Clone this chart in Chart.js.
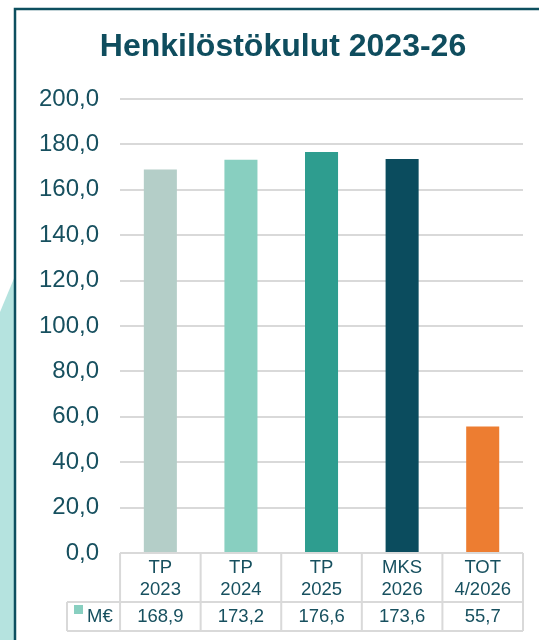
<!DOCTYPE html>
<html>
<head>
<meta charset="utf-8">
<script src="https://cdn.jsdelivr.net/npm/chart.js@4"></script>
<style>
  html, body { margin: 0; padding: 0; background: #fff; }
  #wrap { width: 539px; height: 640px; position: relative; }
</style>
</head>
<body>
<div id="wrap"><canvas id="chart"></canvas></div>
<script>
const categories = [['TP', '2023'], ['TP', '2024'], ['TP', '2025'], ['MKS', '2026'], ['TOT', '4/2026']];
const values = [168.9, 173.2, 176.6, 173.6, 55.7];
const seriesLabel = 'M€';
const chartTitle = 'Henkilöstökulut 2023-26';
const barColors = ['#b4cec8', '#88cfc0', '#2e9d8f', '#0b4c5e', '#ed7d31'];

const textColor = '#17505f';
const lineGrey = '#d9d9d9';
const fontFamily = '"Liberation Sans", Arial, sans-serif';

function fmt(v) {
    return v.toFixed(1).replace('.', ',');
}

// frame, decorative strip on the left and the title
const framePlugin = {
    id: 'frame',
    beforeDraw(chart) {
        const c = chart.ctx;
        c.save();
        c.fillStyle = '#fff';
        c.fillRect(0, 0, chart.width, chart.height);
        c.fillStyle = '#b5e3df';
        c.beginPath();
        c.moveTo(15, 276);
        c.lineTo(0, 312);
        c.lineTo(0, chart.height);
        c.lineTo(15, chart.height);
        c.closePath();
        c.fill();
        c.strokeStyle = '#0d4f5f';
        c.lineWidth = 2.5;
        c.beginPath();
        c.moveTo(15, chart.height);
        c.lineTo(15, 9);
        c.lineTo(chart.width, 9);
        c.stroke();

        c.fillStyle = '#0f4d5e';
        c.font = 'bold 32px ' + fontFamily;
        c.textAlign = 'center';
        c.textBaseline = 'middle';
        c.fillText(chartTitle, 283, 47);
        c.restore();
    }
};

// excel style data table under the plot
const tablePlugin = {
    id: 'dataTable',
    afterDraw(chart) {
        const c = chart.ctx;
        const area = chart.chartArea;
        const x = chart.scales.x;
        const n = categories.length;
        const colW = area.width / n;
        const top = area.bottom;
        const mid = top + 49;
        const bot = mid + 29;
        const legLeft = 67;

        c.save();
        c.strokeStyle = lineGrey;
        c.lineWidth = 2;
        c.beginPath();
        c.moveTo(area.left, top); c.lineTo(area.right, top);
        c.moveTo(legLeft, mid); c.lineTo(area.right, mid);
        c.moveTo(legLeft, bot); c.lineTo(area.right, bot);
        for (let i = 0; i <= n; i++) {
            const xx = area.left + i * colW;
            c.moveTo(xx, top); c.lineTo(xx, bot);
        }
        c.moveTo(legLeft, mid); c.lineTo(legLeft, bot);
        c.stroke();

        c.fillStyle = textColor;
        c.font = '18.5px ' + fontFamily;
        c.textAlign = 'center';
        c.textBaseline = 'middle';
        categories.forEach((lines, i) => {
            const cx = x.getPixelForValue(i);
            c.fillText(lines[0], cx, top + 15);
            c.fillText(lines[1], cx, top + 37);
            c.fillText(fmt(values[i]), cx, mid + 15);
        });

        c.fillStyle = barColors[1];
        c.fillRect(legLeft + 7, mid + 3, 9, 9);
        c.fillStyle = textColor;
        c.textAlign = 'left';
        c.fillText(seriesLabel, legLeft + 20, mid + 15);
        c.restore();
    }
};

new Chart(document.getElementById('chart'), {
    type: 'bar',
    data: {
        labels: categories,
        datasets: [{
            label: seriesLabel,
            data: values,
            backgroundColor: barColors,
            borderWidth: 0,
            categoryPercentage: 1,
            barPercentage: 0.41
        }]
    },
    options: {
        responsive: true,
        maintainAspectRatio: false,
        animation: false,
        layout: {
            padding: { left: 18, right: 16, top: 99, bottom: 87 }
        },
        plugins: {
            legend: { display: false },
            tooltip: { enabled: false },
            title: { display: false }
        },
        scales: {
            x: {
                display: false
            },
            y: {
                min: 0,
                max: 200,
                border: { display: false },
                grid: {
                    color: lineGrey,
                    lineWidth: 2,
                    drawTicks: false
                },
                ticks: {
                    stepSize: 20,
                    padding: 21,
                    color: textColor,
                    font: { family: fontFamily, size: 24 },
                    callback: v => fmt(v)
                }
            }
        }
    },
    plugins: [framePlugin, tablePlugin]
});
</script>
</body>
</html>
